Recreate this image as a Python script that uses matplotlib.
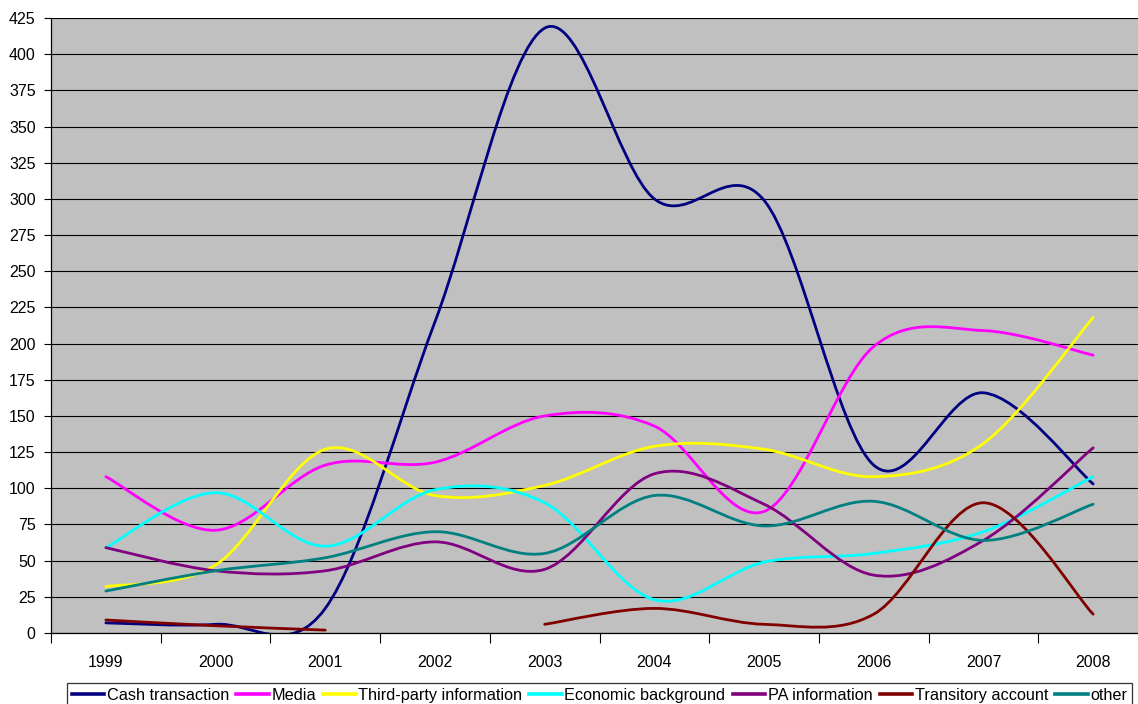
import numpy as np
import matplotlib
matplotlib.use("Agg")
import matplotlib.pyplot as plt
from matplotlib.path import Path
from matplotlib.patches import PathPatch
from matplotlib.lines import Line2D

years = ["1999", "2000", "2001", "2002", "2003", "2004", "2005", "2006", "2007", "2008"]

cash_transaction = [7, 6, 17, 215, 418, 300, 299, 116, 166, 103]
media = [108, 71, 116, 118, 150, 143, 84, 198, 209, 192]
third_party = [32, 47, 127, 95, 102, 129, 127, 108, 131, 218]
economic_background = [59, 97, 60, 99, 90, 23, 49, 55, 70, 108]
pa_information = [59, 43, 43, 63, 44, 110, 89, 40, 64, 128]
transitory_account = [9, 5, 2, None, 6, 17, 6, 13, 90, 13]
other = [29, 43, 52, 70, 55, 95, 74, 91, 64, 89]

series = [
    ("Cash transaction", cash_transaction, "#000080"),
    ("Media", media, "#FF00FF"),
    ("Third-party information", third_party, "#FFFF00"),
    ("Economic background", economic_background, "#00FFFF"),
    ("PA information", pa_information, "#800080"),
    ("Transitory account", transitory_account, "#800000"),
    ("other", other, "#008080"),
]


def smooth_segments(values):
    """Split on gaps and build Excel-like smoothed bezier paths."""
    segments, cur = [], []
    for i, v in enumerate(values):
        if v is None:
            if cur:
                segments.append(cur)
            cur = []
        else:
            cur.append((i, v))
    if cur:
        segments.append(cur)

    paths = []
    for seg in segments:
        pts = np.array(seg, dtype=float)
        if len(pts) < 2:
            continue
        verts = [pts[0]]
        codes = [Path.MOVETO]
        n = len(pts)
        for i in range(n - 1):
            p0 = pts[i - 1] if i > 0 else pts[i]
            p1 = pts[i]
            p2 = pts[i + 1]
            p3 = pts[i + 2] if i + 2 < n else pts[i + 1]
            c1 = p1 + (p2 - p0) / 6.0
            c2 = p2 - (p3 - p1) / 6.0
            verts += [c1, c2, p2]
            codes += [Path.CURVE4] * 3
        paths.append(Path(verts, codes))
    return paths


plt.rcParams["font.family"] = ["Liberation Sans", "DejaVu Sans"]

fig = plt.figure(figsize=(11.38, 7.04), dpi=100)
ax = fig.add_axes([51 / 1138, 1 - 633 / 704, 1097 / 1138, 615 / 704])
ax.set_facecolor("#C0C0C0")

handles = []
for label, values, color in series:
    for p in smooth_segments(values):
        ax.add_patch(PathPatch(p, facecolor="none", edgecolor=color, lw=2.0,
                               capstyle="round", zorder=3))
    handles.append(Line2D([], [], color=color, lw=2.6, label=label))

ax.set_xlim(-0.5, len(years) - 0.5)
ax.set_ylim(0, 425)
ax.set_yticks(np.arange(0, 426, 25))
ax.yaxis.grid(True, color="black", lw=0.8)
ax.set_axisbelow(True)

ax.set_xticks(range(len(years)))
ax.set_xticklabels(years)
ax.set_xticks(np.arange(-0.5, len(years)), minor=True)
ax.tick_params(axis="x", which="major", length=0, pad=16, labelsize=11.5)
ax.tick_params(axis="x", which="minor", length=7, width=0.8, direction="out")
ax.tick_params(axis="y", length=5, width=0.8, pad=6, labelsize=11.5)

for side in ["top", "right"]:
    ax.spines[side].set_visible(False)
ax.spines["left"].set_linewidth(0.9)
ax.spines["bottom"].set_linewidth(0.9)

leg = fig.legend(handles=handles, loc="upper center", ncol=7,
                 bbox_to_anchor=(599.5 / 1138, 1 - 683 / 704),
                 fontsize=11.7, frameon=True, fancybox=False,
                 handlelength=2.0, handletextpad=0.15, columnspacing=0.45,
                 borderpad=0.3, borderaxespad=0)
leg.get_frame().set_edgecolor("black")
leg.get_frame().set_linewidth(0.9)

fig.savefig("out.png", dpi=100)
